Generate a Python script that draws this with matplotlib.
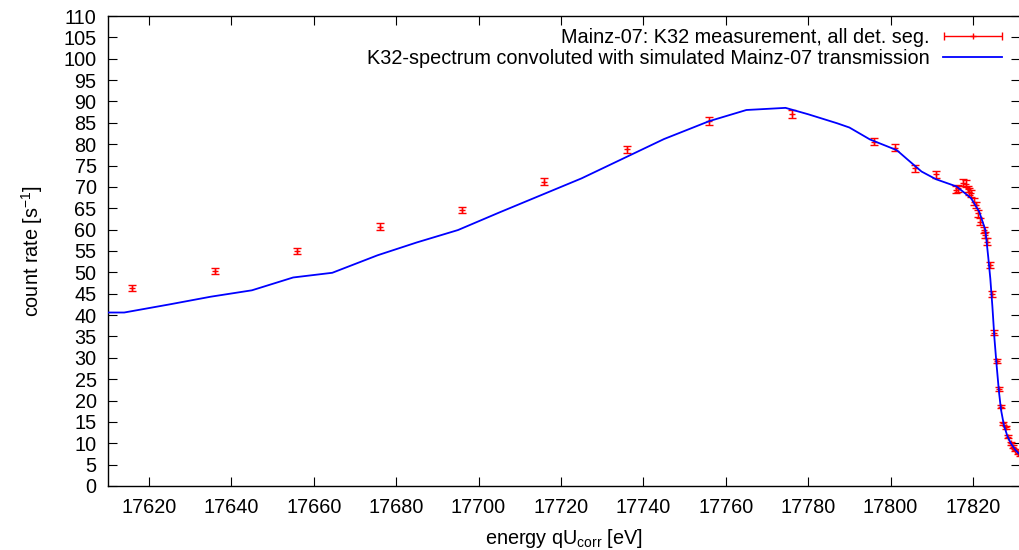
import numpy as np
import matplotlib
matplotlib.use('Agg')
import matplotlib.pyplot as plt
from matplotlib.legend_handler import HandlerErrorbar

# Messpunkte (rot, mit Fehlerbalken)
energia_med = [17616, 17636, 17656, 17676, 17696, 17716, 17736, 17756, 17776,
               17796, 17801, 17806, 17811, 17815.8, 17816.3, 17817.5, 17818.2,
               17818.7, 17819.1, 17819.5, 17820.3, 17820.7, 17821.1, 17821.7,
               17822.6, 17823.0, 17823.5, 17824.2, 17824.7, 17825.2, 17825.8,
               17826.3, 17826.9, 17827.3, 17827.9, 17828.5, 17829.2, 17829.7,
               17830.3, 17830.9, 17831.4]
tasa_med = [46.4, 50.3, 55.0, 60.7, 64.6, 71.2, 78.8, 85.5, 87.0,
            80.6, 79.2, 74.4, 73.0, 69.3, 69.7, 71.0, 70.7,
            69.5, 68.9, 68.5, 66.5, 65.8, 63.8, 61.9,
            59.9, 58.7, 57.2, 51.7, 44.9, 35.9, 29.3,
            22.7, 18.6, 14.7, 13.7, 11.5, 10.0, 9.2,
            8.4, 7.8, 7.4]
error_med = [0.65, 0.70, 0.72, 0.75, 0.78, 0.82, 0.86, 0.90, 0.90,
             0.87, 0.86, 0.84, 0.83, 0.80, 0.80, 0.81, 0.81,
             0.80, 0.80, 0.80, 0.79, 0.78, 0.77, 0.76,
             0.75, 0.74, 0.73, 0.70, 0.65, 0.58, 0.52,
             0.47, 0.42, 0.38, 0.37, 0.35, 0.32, 0.31,
             0.30, 0.29, 0.28]

# Simulation (blaue Linie)
energia_sim = [17610, 17614, 17625, 17635, 17645, 17655, 17664.5, 17675.5, 17685,
               17695, 17705, 17716, 17725, 17735, 17745, 17756, 17765, 17774.5,
               17780, 17787, 17790, 17795, 17801.5, 17804, 17807.5, 17811, 17816,
               17819.5, 17821.5, 17823, 17823.7, 17824.2, 17824.7, 17825.2,
               17825.7, 17826.3, 17826.8, 17827.5, 17828.4, 17829.3, 17830.3, 17831.5]
tasa_sim = [40.6, 40.6, 42.5, 44.3, 45.8, 48.8, 49.9, 54.0, 57.0,
            59.9, 64.0, 68.4, 72.0, 76.6, 81.2, 85.4, 88.0, 88.5,
            87.0, 84.9, 83.9, 81.1, 78.6, 76.5, 73.6, 71.8, 70.1,
            67.4, 64.2, 59.9, 53.5, 48.5, 42.0, 34.5,
            28.5, 22.0, 17.8, 14.2, 11.5, 9.8, 8.4, 7.2]

plt.rcParams['font.family'] = ['Liberation Sans', 'DejaVu Sans']
plt.rcParams['mathtext.fontset'] = 'custom'
plt.rcParams['mathtext.rm'] = 'Liberation Sans'

fs = 14.3

fig = plt.figure(figsize=(10.2, 5.5), dpi=100)
ax = fig.add_axes([0.1056, 0.1164, 0.8944, 0.8545])

ax.plot(energia_sim, tasa_sim, color='#0000ff', lw=1.3, zorder=3)
ax.errorbar(energia_med, tasa_med, yerr=error_med, fmt='+', color='red',
            ms=4, mew=1, elinewidth=1, capsize=3, capthick=1, zorder=2)

# proxy para la leyenda (barra horizontal como en gnuplot)
proxy = ax.errorbar([np.nan], [np.nan], xerr=[1.0], fmt='+', color='red',
                    ms=4, mew=1, elinewidth=1, capsize=3, capthick=1)
linea = plt.Line2D([], [], color='#0000ff', lw=1.3)
ax.legend([proxy, linea],
          ['Mainz-07: K32 measurement, all det. seg.',
           'K32-spectrum convoluted with simulated Mainz-07 transmission'],
          handler_map={proxy: HandlerErrorbar(xerr_size=1.47)},
          loc='upper right', bbox_to_anchor=(0.9803, 0.974),
          frameon=False, markerfirst=False, borderpad=0, borderaxespad=0,
          handlelength=2.95, handletextpad=0.7, labelspacing=0.08,
          fontsize=fs)

ax.set_xlim(17610, 17831.4)
ax.set_ylim(0, 110)
ax.set_xticks(np.arange(17620, 17821, 20))
ax.set_yticks(np.arange(0, 111, 5))
ax.tick_params(direction='in', top=True, right=True, length=6.5, width=0.8,
               labelsize=fs)
ax.tick_params(axis='x', pad=9)
ax.tick_params(axis='y', pad=8)
for s in ax.spines.values():
    s.set_linewidth(1.0)

ax.set_xlabel('energy qU$_\\mathregular{corr}$ [eV]', fontsize=fs, labelpad=7)
ax.set_ylabel('count rate [s$^\\mathregular{-1}$]', fontsize=fs, labelpad=13)

fig.savefig('out.png', dpi=100)
